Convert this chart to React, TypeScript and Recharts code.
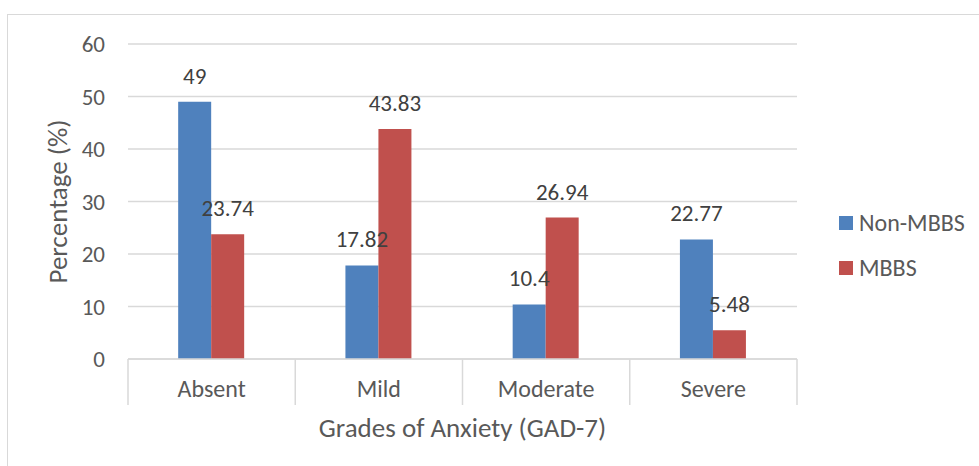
import React from "react"
import {
  BarChart,
  Bar,
  XAxis,
  YAxis,
  CartesianGrid,
  Legend,
  LabelList,
} from "recharts"

const grades = ["Absent", "Mild", "Moderate", "Severe"]
const nonMbbs = [49, 17.82, 10.4, 22.77]
const mbbs = [23.74, 43.83, 26.94, 5.48]
const yTicks = [0, 10, 20, 30, 40, 50, 60]

const data = grades.map((grade, i) => ({
  grade,
  nonMbbs: nonMbbs[i],
  mbbs: mbbs[i],
}))

const W = 979
const H = 466
const margin = { top: 44, right: 182, bottom: 0, left: 0 }
const X_AXIS_H = 107
const Y_AXIS_W = 128
const band = (W - margin.right - Y_AXIS_W) / grades.length

const FONT = "Carlito, Calibri, 'Open Sans', sans-serif"
const GRID = "#d9d9d9"
const TEXT = "#595959"

const series = [
  { key: "nonMbbs", name: "Non-MBBS", color: "#4f81bd" },
  { key: "mbbs", name: "MBBS", color: "#c0504d" },
]

function CategoryTick(props: any) {
  const { x, y, payload, index } = props
  const left = x - band / 2
  const last = index === grades.length - 1
  return (
    <g>
      <line x1={left} y1={y} x2={left} y2={y + 46} stroke={GRID} strokeWidth={1.5} />
      {last && (
        <line x1={left + band} y1={y} x2={left + band} y2={y + 46} stroke={GRID} strokeWidth={1.5} />
      )}
      <text x={x} y={y + 38} textAnchor="middle" fill={TEXT} fontSize={24} fontFamily={FONT}>
        {payload.value}
      </text>
    </g>
  )
}

function LegendBox() {
  return (
    <div style={{ fontFamily: FONT, fontSize: 24, color: TEXT }}>
      {series.map((s) => (
        <div key={s.key} style={{ display: "flex", alignItems: "center", height: 45 }}>
          <span style={{ width: 14, height: 14, background: s.color, marginRight: 6 }} />
          <span>{s.name}</span>
        </div>
      ))}
    </div>
  )
}

export default function App() {
  return (
    <div style={{ position: "absolute", left: 0, top: 0, width: W, height: H, overflow: "hidden", background: "#fff" }}>
      <div
        style={{
          position: "absolute",
          left: 7,
          top: 14,
          width: W,
          height: H,
          borderLeft: `1.5px solid ${GRID}`,
          borderTop: `1.5px solid ${GRID}`,
        }}
      />
      <BarChart
        width={W}
        height={H}
        data={data}
        margin={margin}
        barCategoryGap="30%"
        barGap={0}
        style={{ position: "absolute", left: 0, top: 0 }}
      >
        <CartesianGrid vertical={false} stroke={GRID} strokeWidth={1.5} />
        <XAxis
          dataKey="grade"
          axisLine={{ stroke: GRID, strokeWidth: 1.5 }}
          tickLine={false}
          tickSize={0}
          tickMargin={0}
          height={X_AXIS_H}
          interval={0}
          tick={<CategoryTick />}
          label={{
            value: "Grades of Anxiety (GAD-7)",
            position: "insideTop",
            offset: 59,
            fill: TEXT,
            fontSize: 27,
            fontFamily: FONT,
          }}
        />
        <YAxis
          width={Y_AXIS_W}
          domain={[0, 60]}
          ticks={yTicks}
          interval={0}
          axisLine={false}
          tickLine={false}
          tickSize={0}
          tickMargin={23}
          tick={{ fill: TEXT, fontSize: 23, fontFamily: FONT }}
          label={{
            value: "Percentage (%)",
            content: (p: any) => {
              const vb = p.viewBox
              const cy = vb.y + vb.height / 2
              return (
                <text
                  x={0}
                  y={0}
                  transform={`translate(67, ${cy}) rotate(-90)`}
                  textAnchor="middle"
                  fill={TEXT}
                  fontSize={27}
                  fontFamily={FONT}
                >
                  Percentage (%)
                </text>
              )
            },
          }}
        />
        <Legend
          layout="vertical"
          align="center"
          verticalAlign="middle"
          content={<LegendBox />}
          wrapperStyle={{ left: 839, top: 200, width: 140 }}
        />
        {series.map((s) => (
          <Bar key={s.key} dataKey={s.key} name={s.name} fill={s.color} isAnimationActive={false}>
            <LabelList
              dataKey={s.key}
              position="top"
              offset={18}
              fill="#404040"
              fontSize={23}
              fontFamily={FONT}
            />
          </Bar>
        ))}
      </BarChart>
    </div>
  )
}
